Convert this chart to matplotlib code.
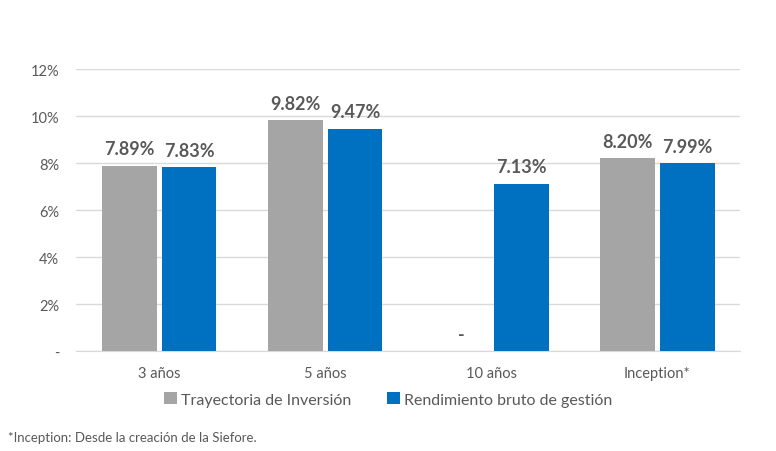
import matplotlib.pyplot as plt
import numpy as np

plt.rcParams['font.family'] = ['Lato', 'DejaVu Sans']

categories = ['3 años', '5 años', '10 años', 'Inception*']
trayectoria = [7.89, 9.82, 0.0, 8.20]
trayectoria_labels = ['7.89%', '9.82%', '-', '8.20%']
rendimiento = [7.83, 9.47, 7.13, 7.99]
rendimiento_labels = ['7.83%', '9.47%', '7.13%', '7.99%']
yticks = [0, 2, 4, 6, 8, 10, 12]
ytick_labels = ['-', '2%', '4%', '6%', '8%', '10%', '12%']

gray = '#A5A5A5'
blue = '#0070C0'
text_col = '#595959'

fig = plt.figure(figsize=(7.76, 4.52), dpi=100)
ax = fig.add_axes([0.098, 0.221, 0.856, 0.624])

x = np.arange(len(categories))
w = 0.33
b1 = ax.bar(x - w / 2 - 0.015, trayectoria, w, color=gray, label='Trayectoria de Inversión', zorder=3)
b2 = ax.bar(x + w / 2 + 0.015, rendimiento, w, color=blue, label='Rendimiento bruto de gestión', zorder=3)

ax.bar_label(b1, labels=trayectoria_labels, padding=6, fontsize=13, fontweight='bold', color=text_col)
ax.bar_label(b2, labels=rendimiento_labels, padding=6, fontsize=13, fontweight='bold', color=text_col)

ax.set_xlim(-0.5, len(categories) - 0.5)
ax.set_ylim(0, 12)
ax.set_yticks(yticks)
ax.set_yticklabels(ytick_labels)
ax.set_xticks(x)
ax.set_xticklabels(categories)
ax.tick_params(axis='both', length=0, labelsize=10.5, colors=text_col)
ax.tick_params(axis='x', pad=11)
ax.tick_params(axis='y', pad=12)
ax.grid(axis='y', color='#D9D9D9', linewidth=1, zorder=0)
for s in ['top', 'right', 'left']:
    ax.spines[s].set_visible(False)
ax.spines['bottom'].set_color('#D9D9D9')

ax.legend(loc='upper center', bbox_to_anchor=(0.47, -0.095), ncol=2, frameon=False,
          fontsize=11.5, labelcolor=text_col, handlelength=0.8, handleheight=0.8,
          handletextpad=0.3, columnspacing=2.2)

fig.text(0.01, 0.022, '*Inception: Desde la creación de la Siefore.', fontsize=9.5, color=text_col)

fig.savefig('out.png', dpi=100)
